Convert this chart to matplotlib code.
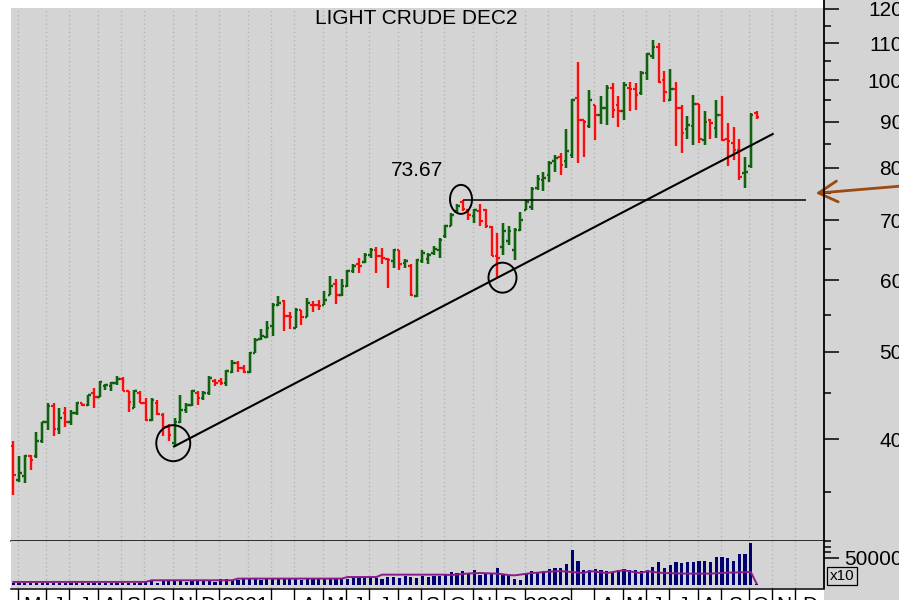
import numpy as np
import pandas as pd
import matplotlib
matplotlib.use('Agg')
import matplotlib.pyplot as plt
import matplotlib.transforms as mtransforms
from matplotlib.patches import Ellipse, Rectangle
from matplotlib.lines import Line2D
from matplotlib.ticker import FixedLocator, NullFormatter, FuncFormatter

plt.rcParams['font.family'] = ['Liberation Sans', 'DejaVu Sans']

# weekly bars, Light Crude Dec 2022 contract (first bar = week of 24 Apr 2020)
first_week = '2020-04-24'

opens = [39.3, 36.05, 36.4, 38.3, 38.3, 39.8, 41.8, 43.5, 41.1, 42.75,
         41.8, 42.75, 43.85, 43.7, 45.0, 44.6, 45.8, 45.85, 46.2, 46.7,
         45.2, 43.3, 45.0, 43.9, 42.0, 43.9, 42.6, 41.3, 39.6, 41.8,
         43.1, 43.7, 45.0, 44.4, 45.0, 46.4, 46.4, 46.2, 47.5, 48.6,
         48.0, 47.5, 49.9, 51.7, 52.0, 53.4, 56.4, 56.9, 54.8, 53.2,
         55.7, 54.6, 56.4, 56.3, 56.4, 57.8, 59.4, 57.8, 59.15, 61.5,
         62.5, 62.9, 64.1, 64.9, 63.9, 63.4, 63.0, 64.8, 62.8, 62.3,
         57.6, 63.0, 63.3, 64.3, 64.9, 67.2, 69.0, 71.6, 73.3, 71.9,
         70.8, 71.6, 71.8, 68.8, 63.9, 65.4, 66.3, 64.9, 68.3, 71.9,
         72.4, 75.9, 77.5, 78.5, 81.3, 82.3, 81.3, 82.6, 95.5, 90.3,
         89.0, 93.8, 91.5, 93.3, 98.0, 93.8, 92.4, 98.0, 97.8, 96.8,
         101.9, 106.3, 109.0, 100.1, 95.1, 97.8, 93.3, 88.3, 89.0, 94.2,
         85.9, 90.4, 88.5, 91.5, 86.1, 85.2, 83.8, 78.9, 80.3, 92.1]
highs = [39.8, 38.3, 38.45, 38.45, 40.8, 41.8, 43.85, 43.9, 43.3, 43.4,
         43.1, 44.0, 43.9, 44.8, 45.55, 46.45, 46.1, 46.3, 47.0, 46.9,
         45.2, 45.4, 45.2, 44.4, 44.4, 44.2, 42.75, 41.6, 42.2, 44.8,
         43.85, 45.4, 45.2, 45.3, 47.0, 46.6, 46.8, 47.75, 49.0, 48.8,
         48.4, 50.0, 51.8, 53.0, 54.1, 56.6, 57.6, 57.1, 55.3, 55.9,
         55.7, 57.3, 56.9, 57.1, 58.4, 60.7, 60.2, 60.2, 61.7, 62.5,
         63.6, 64.4, 65.2, 65.3, 65.2, 63.6, 65.0, 64.9, 63.3, 62.5,
         63.3, 64.9, 64.4, 65.5, 66.9, 69.1, 71.2, 73.0, 73.67, 72.1,
         72.1, 73.0, 72.1, 68.9, 67.7, 69.5, 68.9, 68.6, 71.4, 73.6,
         76.2, 78.5, 79.2, 81.3, 82.6, 83.0, 88.3, 95.3, 104.9, 90.4,
         97.5, 93.9, 96.0, 98.8, 99.3, 96.0, 99.7, 99.7, 99.3, 102.3,
         107.3, 110.9, 109.9, 102.3, 102.9, 99.7, 93.8, 91.2, 96.3, 94.2,
         92.4, 90.6, 95.0, 96.0, 89.6, 88.7, 86.1, 82.2, 92.0, 92.4]
lows = [34.7, 35.9, 35.8, 37.0, 38.1, 39.6, 41.0, 40.3, 40.5, 41.3,
        41.5, 42.6, 43.5, 43.5, 43.3, 44.6, 45.4, 45.3, 46.0, 45.2,
        42.9, 43.3, 43.85, 41.95, 41.95, 42.6, 40.3, 39.8, 39.25, 41.65,
        42.75, 43.5, 43.7, 44.2, 44.8, 45.8, 46.0, 45.8, 47.4, 47.5,
        47.4, 47.4, 49.8, 51.6, 51.8, 52.1, 56.2, 52.7, 53.0, 53.2,
        53.5, 54.6, 55.3, 55.7, 56.4, 57.8, 56.5, 57.6, 59.05, 61.1,
        61.1, 62.8, 63.6, 61.2, 62.5, 58.9, 62.0, 61.6, 62.0, 57.7,
        57.5, 62.8, 62.5, 64.1, 63.6, 66.9, 68.9, 71.3, 71.6, 70.0,
        69.5, 68.9, 68.6, 63.8, 60.35, 64.1, 65.7, 63.2, 68.0, 71.8,
        71.9, 75.6, 75.3, 77.2, 79.2, 78.5, 80.0, 82.0, 80.9, 82.2,
        88.5, 85.8, 89.5, 89.2, 90.8, 88.7, 90.4, 92.4, 92.7, 96.4,
        100.2, 105.7, 99.3, 94.7, 94.8, 84.6, 83.0, 86.1, 84.7, 85.2,
        84.9, 86.1, 86.4, 85.6, 80.4, 81.6, 77.6, 76.0, 80.0, 90.6]
closes = [36.5, 36.7, 38.3, 37.9, 39.8, 41.8, 43.5, 41.1, 42.2, 41.8,
          42.75, 43.85, 43.7, 44.8, 44.6, 46.3, 46.0, 46.2, 46.7, 45.3,
          44.0, 45.2, 43.9, 42.0, 44.2, 42.7, 41.3, 40.4, 41.8, 43.1,
          43.7, 45.2, 44.4, 45.0, 46.8, 46.2, 46.2, 47.6, 48.6, 48.0,
          47.5, 49.9, 51.6, 52.1, 53.2, 56.4, 56.6, 54.8, 54.6, 55.7,
          54.6, 56.6, 56.3, 56.2, 57.1, 59.2, 57.8, 59.2, 61.5, 62.3,
          62.3, 64.1, 64.9, 63.8, 63.6, 63.2, 64.9, 62.5, 63.0, 57.8,
          63.2, 64.3, 64.1, 65.0, 66.6, 69.0, 71.0, 72.6, 72.1, 71.0,
          71.8, 69.8, 68.9, 63.9, 63.5, 68.0, 68.0, 68.3, 70.0, 73.3,
          75.7, 77.8, 78.0, 81.0, 82.0, 80.6, 83.5, 95.0, 90.3, 90.0,
          95.0, 91.5, 93.3, 98.0, 92.8, 92.4, 98.8, 97.8, 96.4, 101.9,
          106.9, 109.0, 99.7, 97.1, 97.8, 93.3, 87.4, 89.3, 94.2, 86.1,
          90.0, 89.6, 91.5, 85.9, 85.7, 83.8, 78.2, 79.2, 91.6, 91.1]

volume = [3000, 2500, 3500, 2800, 3200, 2600, 3000, 3400, 2700, 3100,
          2900, 3300, 2500, 3000, 3600, 2800, 3200, 3000, 2700, 3500,
          3300, 2900, 3100, 3800, 6000, 3500, 7500, 6500, 8000, 7000,
          4000, 7000, 8500, 7800, 6500, 5000, 9500, 11000, 9000, 8000,
          10000, 12500, 10500, 9000, 11000, 10500, 12000, 9500, 10000, 11500,
          9000, 10000, 12000, 11000, 9500, 12500, 13000, 11000, 10500, 12000,
          11500, 13000, 14000, 12500, 11000, 14500, 13500, 12000, 15000, 14000,
          13000, 15500, 14500, 16000, 15000, 17000, 23100, 21300, 24400, 21300,
          27500, 17000, 21300, 21300, 31100, 20200, 17000, 11000, 9200, 21300,
          24900, 23100, 24900, 29300, 31100, 31100, 38500, 64100, 44500, 27500,
          26200, 29300, 26200, 24900, 23100, 26200, 29300, 27500, 26200, 24900,
          26200, 32200, 41400, 31100, 35400, 41400, 39600, 41400, 41400, 44500,
          44500, 41400, 50600, 51800, 49500, 44500, 56800, 56800, 76200, 1500]
vol_avg = [4800, 4800, 4900, 4800, 4800, 4900, 4800, 4800, 4900, 4800,
           4800, 4900, 4800, 4800, 4900, 4800, 4800, 4900, 4800, 4800,
           4900, 4800, 4800, 4900, 7900, 7900, 7900, 7900, 7900, 7900,
           7900, 7900, 7900, 7900, 7900, 7900, 7900, 7900, 7900, 11000,
           11000, 11000, 11000, 11000, 11000, 11000, 11000, 11000, 11000, 11000,
           11000, 11000, 11000, 11000, 11000, 11000, 11000, 11000, 13900, 13900,
           13900, 13900, 13900, 13900, 18300, 18300, 18300, 18300, 18300, 18300,
           18300, 18300, 18300, 18300, 18300, 18300, 17500, 18500, 19500, 20500,
           21000, 21300, 21000, 20500, 20200, 19000, 17500, 17000, 18500, 20000,
           21300, 22000, 23000, 24000, 24500, 24900, 24000, 23000, 22000, 21300,
           24900, 24000, 22500, 21300, 23000, 25000, 26200, 24500, 22500, 21300,
           24900, 23500, 22000, 21300, 21000, 20500, 20200, 20200, 20200, 20200,
           20200, 20200, 21000, 21500, 22000, 22300, 22600, 22900, 23100, 1800]

price_ticks = [40, 50, 60, 70, 80, 90, 100, 110, 120]
price_minor = [35, 45, 55, 65, 75, 85, 95, 105, 115]

gray = '#d4d4d4'
green = '#105e10'
red = '#f40c0c'

W, H = 899, 600


def box(x0, y0, x1, y1):
    # pixel box (top-left origin) -> figure fraction rect
    return [x0 / W, 1 - y1 / H, (x1 - x0) / W, (y1 - y0) / H]


fig = plt.figure(figsize=(W / 100, H / 100), dpi=100)
fig.patch.set_facecolor('white')
fig.add_artist(Rectangle((824 / W, 0), (W - 824) / W, 1, transform=fig.transFigure,
                         fc=gray, ec='none', zorder=0))

ax = fig.add_axes(box(11, 8, 824, 541))
vax = fig.add_axes(box(11, 541, 824, 588), sharex=ax)
for a in (ax, vax):
    a.set_facecolor(gray)
    for s in a.spines.values():
        s.set_visible(False)
    a.tick_params(axis='x', bottom=False, labelbottom=False)
ax.spines['bottom'].set_visible(True)
ax.spines['bottom'].set_linewidth(1.1)

n = len(closes)
x = np.arange(n)
o = np.array(opens)
h = np.array(highs)
l = np.array(lows)
c = np.array(closes)
up = c >= o
col = np.where(up, green, red)
halo = np.where(up, '#8fb68f', '#f2a6a6')

# month grid from weekly dates (run past the last bar to the chart edge)
dates = pd.date_range(first_week, periods=142, freq='W-FRI')
month_starts = [i for i in range(1, len(dates)) if dates[i].month != dates[i - 1].month]
xmin, xmax = -0.4, 140.7
for i in month_starts:
    for a in (ax, vax):
        a.axvline(i - 0.25, color='#b5b5b5', lw=1.0, ls=(0, (1, 2)), zorder=1)

# OHLC bars
tk = 0.45
ax.vlines(x, l, h, colors=halo, lw=2.8, zorder=2)
ax.hlines(o, x - tk, x, colors=halo, lw=2.8, zorder=2)
ax.hlines(c, x, x + tk, colors=halo, lw=2.8, zorder=2)
ax.vlines(x, l, h, colors=col, lw=1.4, zorder=3)
ax.hlines(o, x - tk, x, colors=col, lw=1.4, zorder=3)
ax.hlines(c, x, x + tk, colors=col, lw=1.4, zorder=3)

ax.set_yscale('log')
ax.set_ylim(30.85, 120.3)
ax.set_xlim(xmin, xmax)
ax.yaxis.tick_right()
ax.yaxis.set_major_locator(FixedLocator(price_ticks))
ax.yaxis.set_minor_locator(FixedLocator(price_minor))
ax.yaxis.set_major_formatter(FuncFormatter(lambda v, p: f'{v:.0f}'))
ax.yaxis.set_minor_formatter(NullFormatter())
ax.tick_params(axis='y', which='major', length=10.8, width=1.1, pad=46, labelsize=15,
               direction='out', colors='black')
ax.tick_params(axis='y', which='minor', length=5, width=1.1, direction='out')
for t in ax.get_yticklabels():
    t.set_horizontalalignment('right')

# trend line, 73.67 resistance, marked pivots
ax.plot([27.9, 131.8], [39.27, 87.2], color='black', lw=1.5, zorder=4)
ax.hlines(73.67, 78, 137.5, color='black', lw=1.1, zorder=4)
ax.text(70.0, 79.5, '73.67', ha='center', va='center', fontsize=15)


def ring(xd, yd, w, hgt):
    tr = fig.dpi_scale_trans + mtransforms.ScaledTranslation(xd, yd, ax.transData)
    ax.add_patch(Ellipse((0, 0), w / 100, hgt / 100, transform=tr, fill=False,
                         ec='black', lw=1.4, zorder=5))


ring(27.76, 39.6, 34, 36)
ring(77.7, 73.8, 22, 29)
ring(84.9, 60.43, 28, 30)

fig.text(416 / W, 1 - 18 / H, 'LIGHT CRUDE DEC2', ha='center', va='center', fontsize=15)

ax.annotate('', xy=(813, H - 193.5), xycoords='figure pixels',
            xytext=(902, H - 186), textcoords='figure pixels',
            arrowprops=dict(arrowstyle='->,head_length=0.9,head_width=0.5',
                            color='#9b4a10', lw=2, mutation_scale=15),
            annotation_clip=False)

# volume panel
vax.bar(x, volume, width=0.55, color='#000070', zorder=2)
vax.plot(x, vol_avg, color='#8b1a8b', lw=1.4, zorder=3)
vax.set_ylim(-6400, 80600)
vax.yaxis.tick_right()
vax.yaxis.set_major_locator(FixedLocator([50000]))
vax.yaxis.set_minor_locator(FixedLocator([60000, 70000, 80000]))
vax.yaxis.set_major_formatter(FuncFormatter(lambda v, p: f'{v:.0f}'))
vax.yaxis.set_minor_formatter(NullFormatter())
vax.tick_params(axis='y', which='major', length=10.8, width=1.1, pad=46, labelsize=15,
                direction='out')
vax.tick_params(axis='y', which='minor', length=5, width=1.1, direction='out')
for t in vax.get_yticklabels():
    t.set_horizontalalignment('right')

fig.text(842 / W, 1 - 576 / H, 'x10', ha='center', va='center', fontsize=11,
         bbox=dict(boxstyle='square,pad=0.15', fc=gray, ec='black', lw=0.9))

# price axis line and month strip
fig.add_artist(Line2D([824 / W, 824 / W], [1 - 588 / H, 1], color='black', lw=1.3))
fig.add_artist(Line2D([11 / W, 824 / W], [1 - 589 / H, 1 - 589 / H], color='black', lw=1.1))

strip = mtransforms.blended_transform_factory(vax.transData, fig.transFigure)
borders = [i for i in month_starts if dates[i].month != 2 and i - 0.25 < xmax]
for k, i in enumerate(borders):
    vax.add_line(Line2D([i - 0.25, i - 0.25], [0, 1 - 589 / H], transform=strip,
                        color='black', lw=1.0, clip_on=False))
    nxt = borders[k + 1] - 0.25 if k + 1 < len(borders) else xmax
    d = dates[i]
    if d.month == 1:
        lab = str(d.year)
    elif d.month == 3:
        lab = ''
    else:
        lab = d.strftime('%b')[0]
    vax.text((i - 0.25 + nxt) / 2, 1 - 596 / H, lab, transform=strip, ha='center',
             va='top', fontsize=15, clip_on=False)

fig.savefig('out.png', dpi=100, facecolor='white')
